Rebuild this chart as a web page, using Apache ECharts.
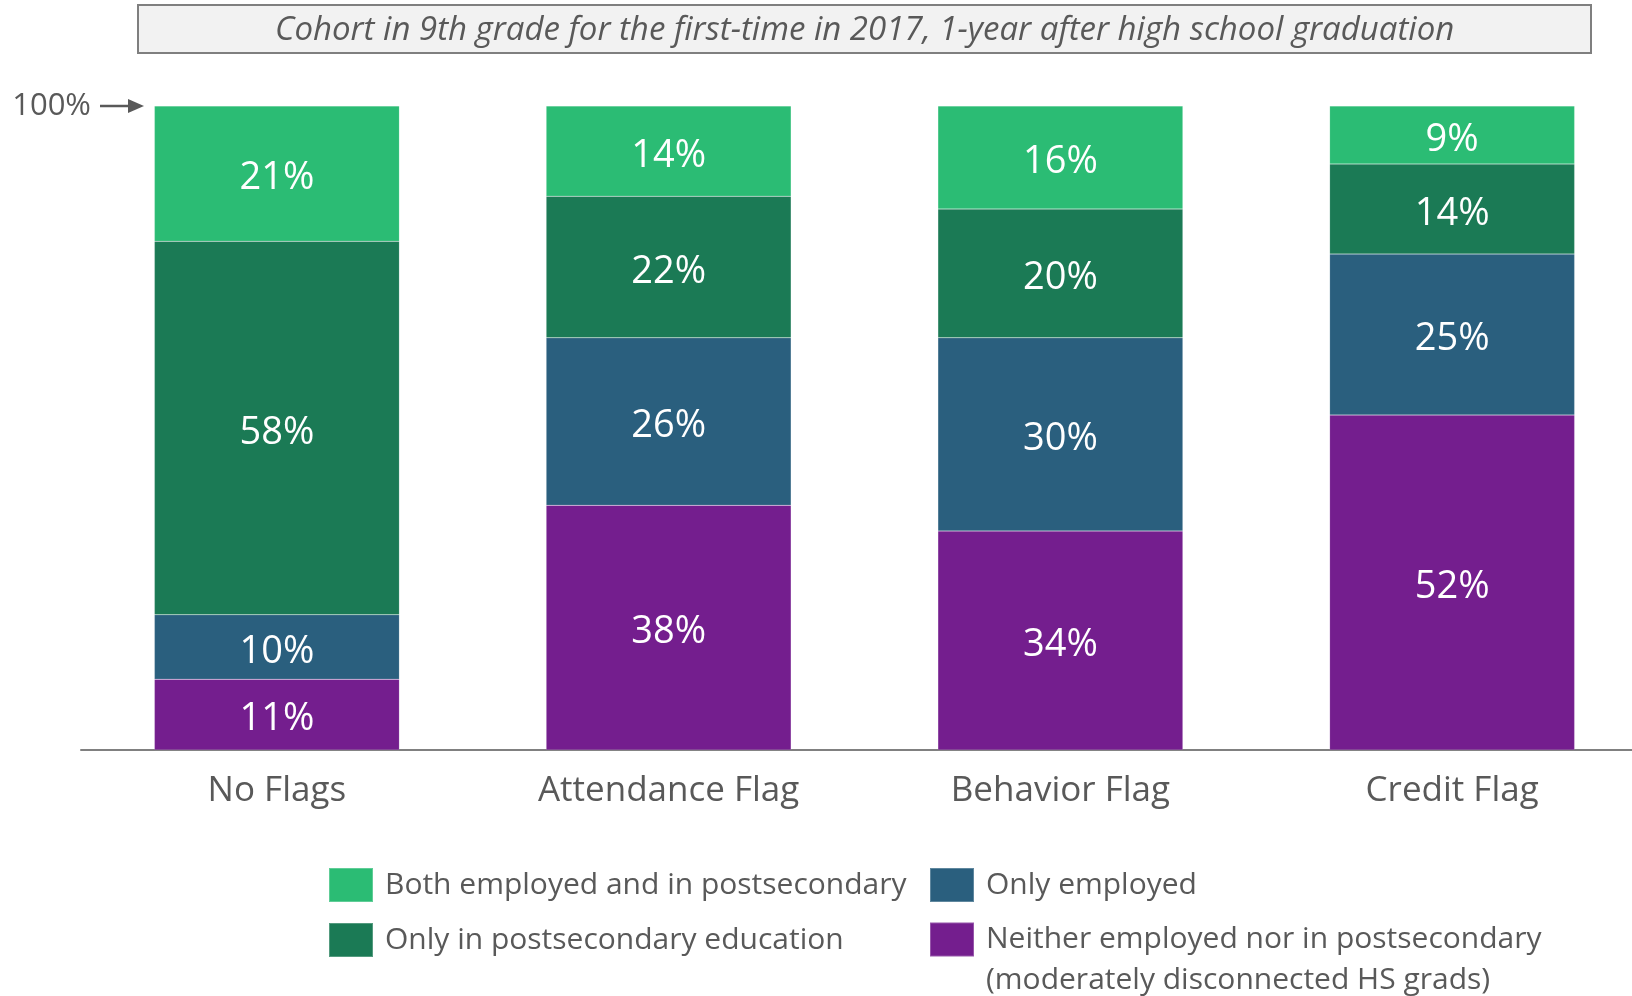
<!DOCTYPE html>
<html>
<head>
<meta charset="utf-8">
<script src="https://cdn.jsdelivr.net/npm/echarts@6/dist/echarts.min.js"></script>
<style>
  html, body { margin: 0; padding: 0; background: #ffffff; }
  #chart { width: 1632px; height: 996px; }
</style>
</head>
<body>
<div id="chart"></div>
<script>
// Outcome one year after high school graduation, by early-warning flag
const categories = ['No Flags', 'Attendance Flag', 'Behavior Flag', 'Credit Flag'];

const neitherName = 'Neither employed nor in postsecondary';
const neitherNote = '(moderately disconnected HS grads)';

const neither      = [11, 38, 34, 52];
const onlyEmployed = [10, 26, 30, 25];
const onlyPostsec  = [58, 22, 20, 14];
const both         = [21, 14, 16, 9];

const titleText = 'Cohort in 9th grade for the first-time in 2017, 1-year after high school graduation';

const FONT = '"Open Sans", sans-serif';
const GREY = '#595959';

const colors = {
  both: '#2bbc74',
  onlyPostsec: '#1b7a55',
  onlyEmployed: '#2a5f7e',
  neither: '#741e8e'
};

const chart = echarts.init(document.getElementById('chart'));

function barSeries(name, data, color) {
  return {
    name: name,
    type: 'bar',
    stack: 'total',
    barWidth: 245,
    data: data,
    itemStyle: { color: color, borderColor: 'rgba(255,255,255,0.25)', borderWidth: 0.5 },
    label: {
      show: true,
      position: 'inside',
      offset: [0, 5],
      color: '#ffffff',
      fontFamily: FONT,
      fontSize: 38,
      formatter: p => p.value + '%'
    },
    emphasis: { disabled: true }
  };
}

const legendText = { color: GREY, fontFamily: FONT, fontSize: 30, padding: [0, 0, 0, 7] };

const option = {
  animation: false,
  title: {
    text: titleText,
    left: 138,
    top: 5,
    padding: [5, 137, 2, 137],
    backgroundColor: '#f2f2f2',
    borderColor: '#7f7f7f',
    borderWidth: 2,
    textStyle: {
      color: GREY, fontFamily: FONT, fontStyle: 'italic', fontWeight: 'normal',
      fontSize: 33, lineHeight: 41
    }
  },
  grid: { left: 81, width: 1567, top: 106, bottom: 246, outerBoundsMode: 'none' },
  xAxis: {
    type: 'category',
    data: categories,
    axisLine: { show: true, lineStyle: { color: '#808080', width: 2 } },
    axisTick: { show: false },
    axisLabel: { color: GREY, fontFamily: FONT, fontSize: 35, margin: 24 }
  },
  yAxis: {
    type: 'value',
    min: 0,
    max: 100,
    interval: 100,
    splitLine: { show: false },
    axisLine: { show: false },
    axisTick: { show: false },
    axisLabel: {
      color: GREY, fontFamily: FONT, fontSize: 31, margin: -10,
      formatter: v => (v === 100 ? '100%' : '')
    }
  },
  legend: [
    {
      orient: 'vertical', left: 328, top: 867, padding: 0, itemWidth: 44, itemHeight: 34, itemGap: 19,
      icon: 'rect', textStyle: legendText, selectedMode: false,
      data: ['Both employed and in postsecondary', 'Only in postsecondary education']
    },
    {
      left: 929, top: 867, padding: 0, itemWidth: 44, itemHeight: 34,
      icon: 'rect', textStyle: legendText, selectedMode: false,
      data: ['Only employed']
    },
    {
      // blank first line keeps the swatch level with the first line of text
      left: 929, top: 878, padding: 0, itemWidth: 44, itemHeight: 34,
      icon: 'rect', selectedMode: false,
      textStyle: { color: GREY, fontFamily: FONT, fontSize: 30, lineHeight: 41, padding: [0, 0, 0, 7] },
      formatter: name => ' \n' + name + '\n' + neitherNote,
      data: [neitherName]
    }
  ],
  series: [
    barSeries(neitherName, neither, colors.neither),
    barSeries('Only employed', onlyEmployed, colors.onlyEmployed),
    barSeries('Only in postsecondary education', onlyPostsec, colors.onlyPostsec),
    barSeries('Both employed and in postsecondary', both, colors.both)
  ]
};

chart.setOption(option);

// Arrow pointing from the 100% label to the top of the bars
const yTop = chart.convertToPixel({ yAxisIndex: 0 }, 100);
chart.setOption({
  graphic: [
    {
      type: 'line',
      shape: { x1: 100, y1: yTop, x2: 131, y2: yTop },
      style: { stroke: GREY, lineWidth: 2.5 }
    },
    {
      type: 'polygon',
      shape: { points: [[128, yTop - 7], [144, yTop], [128, yTop + 7]] },
      style: { fill: GREY }
    }
  ]
});
</script>
</body>
</html>
